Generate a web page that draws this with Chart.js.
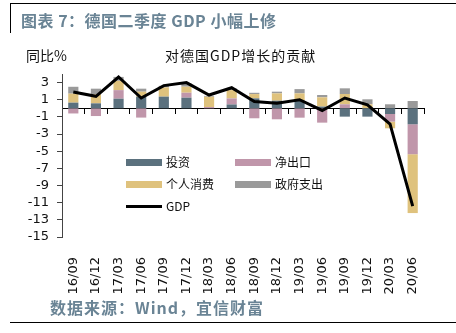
<!DOCTYPE html>
<html>
<head>
<meta charset="utf-8">
<script src="https://cdn.jsdelivr.net/npm/chart.js@4"></script>
<style>
  body { margin: 0; background: #fff; }
  #wrap { position: relative; width: 456px; height: 333px; overflow: hidden; font-family: "Noto Sans CJK SC", sans-serif; }
  #chart { position: absolute; left: 0; top: 0; }
  .rule { position: absolute; background: #000; }
  .head { position: absolute; left: 21px; top: 9px; font-size: 16px; font-weight: bold; color: #6a8495; white-space: nowrap; line-height: 22px; letter-spacing: 0.5px; }
  .foot { position: absolute; left: 50px; top: 296px; font-size: 16px; font-weight: bold; color: #6a8495; white-space: nowrap; line-height: 22px; letter-spacing: 1px; }
  .unit { position: absolute; left: 26px; top: 46px; font-size: 14px; color: #111; line-height: 18px; }
  .sub { position: absolute; left: 165px; top: 46px; font-size: 14px; letter-spacing: 1px; color: #111; line-height: 18px; white-space: nowrap; }
  .lg { position: absolute; font-size: 12px; color: #111; line-height: 14px; white-space: nowrap; }
  .lg i { position: absolute; left: 0; width: 36px; }
  .lg span { position: absolute; left: 40px; top: -7px; }
</style>
</head>
<body>
<div id="wrap">
  <canvas id="chart" width="456" height="333"></canvas>
  <div class="rule" style="left:10px;top:3px;width:446px;height:1px"></div>
  <div class="rule" style="left:10px;top:3px;width:1px;height:30px"></div>
  <div class="rule" style="left:10px;top:322px;width:446px;height:1px"></div>
  <div class="head">图表 7：德国二季度 GDP 小幅上修</div>
  <div class="unit">同比%</div>
  <div class="sub">对德国GDP增长的贡献</div>
  <div class="foot">数据来源：Wind，宜信财富</div>
</div>
<script>
"use strict";

const quarters = ["16/09", "16/12", "17/03", "17/06", "17/09", "17/12", "18/03", "18/06",
	"18/09", "18/12", "19/03", "19/06", "19/09", "19/12", "20/03", "20/06"];

const investment  = [0.66, 0.58, 1.12, 1.36, 1.36, 1.24, 0, 0.45, 1.16, 0.89, 0.89, 0.2, -0.97, -0.97, -0.66, -1.86];
const netExports  = [-0.6, -0.9, 1.0, -1.08, 0, 0.58, 0.15, 0.7, -1.16, -1.28, -1.09, -1.67, 0.47, 0, -0.89, -3.49];
const consumption = [1.05, 1.05, 1.08, 0.58, 1.08, 0.7, 1.2, 0.97, 0.5, 0.85, 0.85, 1.08, 1.2, 0.47, -0.78, -6.86];
const government  = [0.8, 0.66, 0.46, 0.35, 0.18, 0.39, 0.1, 0.2, 0.15, 0.2, 0.5, 0.27, 0.66, 0.58, 0.47, 0.85];
const gdp         = [1.9, 1.4, 3.65, 1.2, 2.65, 3.0, 1.55, 2.4, 0.8, 0.6, 1.0, -0.25, 1.2, 0.4, -1.85, -11.4];

const yTicks = [3, 1, -1, -3, -5, -7, -9, -11, -13, -15];

const colors = {
	investment: "#5b717e",
	netExports: "#c096aa",
	consumption: "#dfc27d",
	government: "#9a9a9a",
	gdp: "#000000"
};

// legend entries: label, colour, left, top, kind
const legendItems = [
	["投资", colors.investment, 126, 162, "bar"],
	["净出口", colors.netExports, 235, 162, "bar"],
	["个人消费", colors.consumption, 126, 184, "bar"],
	["政府支出", colors.government, 235, 184, "bar"],
	["GDP", colors.gdp, 126, 206, "line"]
];

const wrap = document.querySelector("#wrap");
for (const [label, color, left, top, kind] of legendItems) {
	const item = document.createElement("div");
	item.className = "lg";
	item.style.left = left + "px";
	item.style.top = top + "px";
	const h = kind === "bar" ? 7 : 3;
	item.innerHTML = `<i style="background:${color};height:${h}px;top:${-h / 2}px"></i><span>${label}</span>`;
	wrap.appendChild(item);
}

function barSet(label, data, color) {
	return {
		type: "bar",
		label: label,
		data: data,
		backgroundColor: color,
		borderWidth: 0,
		barPercentage: 0.45,
		categoryPercentage: 1,
		order: 1
	};
}

new Chart(document.querySelector("#chart").getContext("2d"), {
	data: {
		labels: quarters,
		datasets: [
			{
				type: "line",
				label: "GDP",
				data: gdp,
				borderColor: colors.gdp,
				borderWidth: 3,
				pointRadius: 0,
				tension: 0,
				stack: "gdp",
				order: 0
			},
			barSet("投资", investment, colors.investment),
			barSet("净出口", netExports, colors.netExports),
			barSet("个人消费", consumption, colors.consumption),
			barSet("政府支出", government, colors.government)
		]
	},
	options: {
		responsive: false,
		animation: false,
		layout: { padding: { top: 74, right: 32, bottom: 34, left: 0 } },
		plugins: { legend: { display: false }, tooltip: { enabled: false } },
		scales: {
			x: {
				stacked: true,
				offset: true,
				grid: { display: false, offset: true },
				border: { display: false },
				ticks: {
					autoSkip: false,
					minRotation: 90,
					maxRotation: 90,
					padding: 12,
					color: "#111",
					font: { family: "DejaVu Sans", size: 13 }
				},
				afterFit: (scale) => { scale.height = 62; }
			},
			xZero: {
				type: "category",
				axis: "x",
				position: { y: 0 },
				offset: true,
				grid: { offset: true, drawOnChartArea: false, drawTicks: true, tickLength: 5, color: "#000" },
				border: { display: true, color: "#000", width: 1 },
				ticks: { display: false }
			},
			y: {
				stacked: true,
				min: -15,
				max: 4,
				grid: { drawOnChartArea: false, drawTicks: true, tickLength: 5, color: "#444" },
				border: { display: true, color: "#444", width: 1 },
				afterBuildTicks: (scale) => { scale.ticks = yTicks.map(v => ({ value: v })); },
				ticks: {
					autoSkip: false,
					padding: 8,
					color: "#111",
					font: { family: "DejaVu Sans", size: 13 }
				},
				afterFit: (scale) => { scale.width = 62; }
			}
		}
	}
});
</script>
</body>
</html>
